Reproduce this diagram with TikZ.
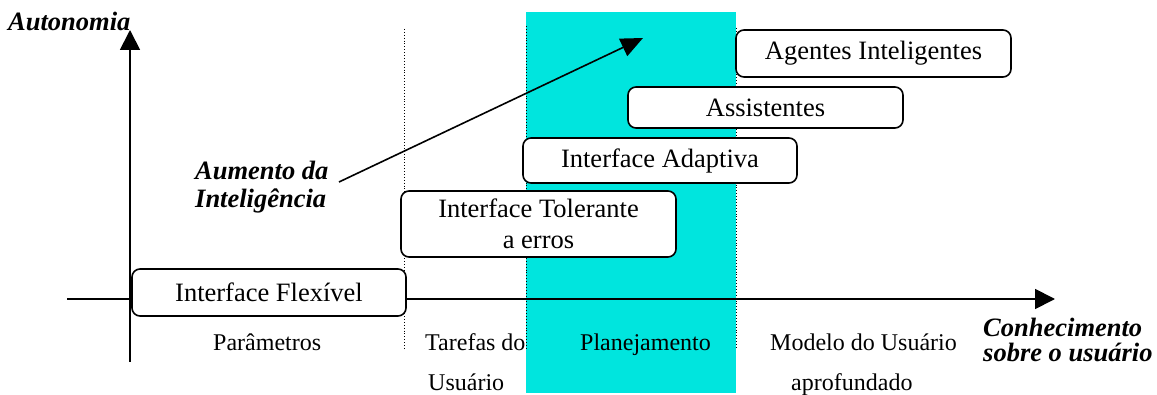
\documentclass[tikz,border=0pt]{standalone}
\usepackage{fontspec}
\setmainfont{Liberation Serif}
\usetikzlibrary{arrows.meta}
\definecolor{cyanbg}{RGB}{0,229,222}
\begin{document}
\begin{tikzpicture}[x=1pt,y=-1pt,
  box/.style={draw,line width=1.6pt,rounded corners=8pt,fill=white,inner sep=0pt,align=center,font=\fontsize{26.5}{31}\selectfont},
  lbl/.style={inner sep=0pt,anchor=base west,font=\fontsize{24}{30}\selectfont},
  bilbl/.style={inner sep=0pt,anchor=base west,font=\fontsize{26.5}{30}\selectfont\bfseries\itshape},
  axis/.style={line width=1.8pt,-{Triangle[length=20pt,width=20pt]}},
  sep/.style={line width=0.9pt,dotted}]
\useasboundingbox (0,0) rectangle (1157,395);
\fill[cyanbg] (526,12) rectangle (736,393);
\draw[sep] (404,29) -- (404,350);
\draw[sep] (526,26) -- (526,350);
\draw[sep] (736,28) -- (736,348);
% axes
\coordinate (yo) at (130,362);
\coordinate (yt) at (130,30);
\coordinate (xo) at (67,299);
\coordinate (xt) at (1055,299);
\draw[axis] (yo) -- (yt);
\draw[axis] (xo) -- (xt);
% intelligence arrow
\coordinate (ai) at (339,182);
\coordinate (at) at (643,38);
\draw[line width=1.6pt,-{Triangle[length=22pt,width=19pt]}] (ai) -- (at);
% boxes
\node[box,minimum width=274pt,minimum height=47pt] (flex) at (269,292.5) {Interface Flexível};
\node[box,minimum width=275pt,minimum height=66pt] (tol) at (538.5,224) {Interface Tolerante\\a erros};
\node[box,minimum width=274pt,minimum height=45pt] (adapt) at (660,160.5) {Interface Adaptiva};
\node[box,minimum width=275pt,minimum height=41pt] (assist) at (765.5,107.5) {Assistentes};
\node[box,minimum width=275pt,minimum height=47pt] (agent) at (873.5,53.5) {Agentes Inteligentes};
% labels
\node[bilbl] (auto) at (8,31) {Autonomia};
\node[bilbl] (aum1) at (195,180) {Aumento da};
\node[bilbl] (aum2) at (195,208) {Inteligência};
\node[bilbl] (con1) at (983,337) {Conhecimento};
\node[bilbl] (con2) at (983,362) {sobre o usuário};
\node[lbl] (par) at (213,351) {Parâmetros};
\node[lbl] (tar1) at (425,351) {Tarefas do};
\node[lbl] (tar2) at (428,390) {Usuário};
\node[lbl] (plan) at (580,351) {Planejamento};
\node[lbl] (mod1) at (770,351) {Modelo do Usuário};
\node[lbl] (mod2) at (791,390) {aprofundado};
\end{tikzpicture}
\end{document}
